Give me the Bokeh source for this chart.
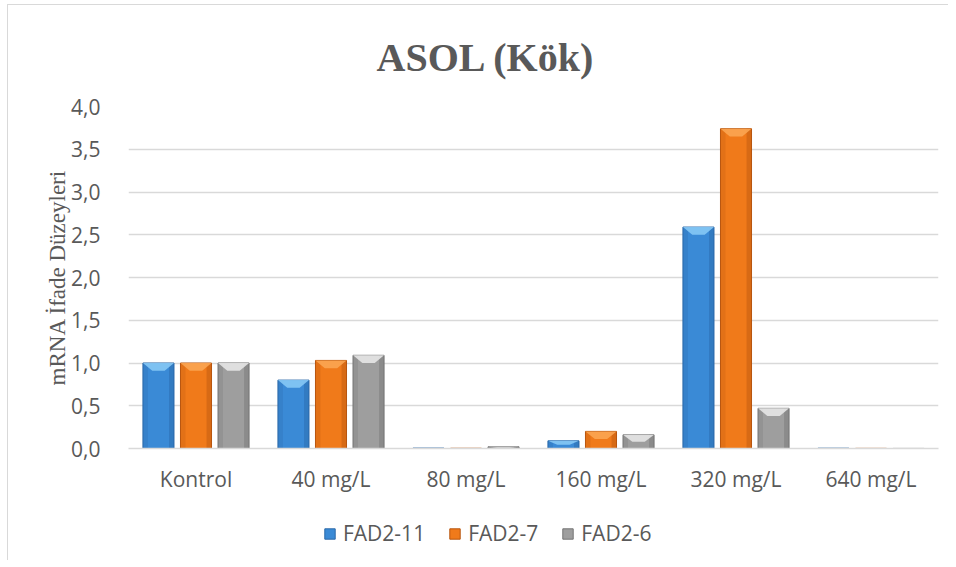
from bokeh.plotting import figure
from bokeh.layouts import column
from bokeh.models import (Range1d, FixedTicker, Legend, LegendItem,
                          ColumnDataSource)
from bokeh.embed import file_html
from bokeh.resources import INLINE

# ---- data -------------------------------------------------------------
categories = ["Kontrol", "40 mg/L", "80 mg/L", "160 mg/L", "320 mg/L", "640 mg/L"]
series_names = ["FAD2-11", "FAD2-7", "FAD2-6"]
fad2_11 = [1.00, 0.80, 0.005, 0.09, 2.59, 0.004]
fad2_7 = [1.00, 1.03, 0.003, 0.20, 3.74, 0.002]
fad2_6 = [1.00, 1.09, 0.02, 0.16, 0.47, 0.001]
y_ticks = [0.0, 0.5, 1.0, 1.5, 2.0, 2.5, 3.0, 3.5, 4.0]
y_tick_labels = ["0,0", "0,5", "1,0", "1,5", "2,0", "2,5", "3,0", "3,5", "4,0"]
title_text = "ASOL (Kök)"
y_title = "mRNA İfade Düzeyleri"

# ---- styles -----------------------------------------------------------
main_colors = ["#3A8AD6", "#F07A1A", "#9E9E9E"]
edge_colors = ["#2A68A8", "#B8560F", "#747474"]
bevel_colors = ["#86C8F5", "#FBA552", "#E6E6E6"]
offsets = [-0.278, 0.0, 0.278]
bar_w = 0.23
text_col = "#595959"
grid_col = "#D9D9D9"

p = figure(width=940, height=500, output_backend="svg", toolbar_location=None,
           x_range=Range1d(0, len(categories)), y_range=Range1d(0, 4.0),
           min_border_left=120, min_border_right=10, min_border_top=101,
           min_border_bottom=57)
p.outline_line_color = None
p.background_fill_color = "white"
p.border_fill_color = "white"

# title
p.title.text = title_text
p.title.align = "left"
p.title.offset = 248
p.title.standoff = 54
p.title.text_font = "Liberation Serif"
p.title.text_font_style = "bold"
p.title.text_font_size = "40px"
p.title.text_color = text_col

# axes
p.xaxis.ticker = FixedTicker(ticks=[i + 0.5 for i in range(len(categories))])
p.xaxis.major_label_overrides = {i + 0.5: c for i, c in enumerate(categories)}
p.yaxis.ticker = FixedTicker(ticks=y_ticks)
p.yaxis.major_label_overrides = {t: l for t, l in zip(y_ticks, y_tick_labels)}
for ax in (p.xaxis, p.yaxis):
    ax.major_tick_line_color = None
    ax.minor_tick_line_color = None
    ax.major_label_text_font = "Open Sans"
    ax.major_label_text_font_size = "21px"
    ax.major_label_text_color = text_col
p.xaxis.axis_line_color = grid_col
p.xaxis.axis_line_width = 1.5
p.yaxis.axis_line_color = None
p.xaxis.major_label_standoff = 10
p.yaxis.major_label_standoff = 22
p.yaxis.axis_label = y_title
p.yaxis.axis_label_text_font = "Liberation Serif"
p.yaxis.axis_label_text_font_style = "normal"
p.yaxis.axis_label_text_font_size = "23px"
p.yaxis.axis_label_text_color = text_col
p.yaxis.axis_label_standoff = -2
p.xgrid.grid_line_color = None
p.ygrid.grid_line_color = grid_col
p.ygrid.grid_line_width = 1.5

# legend figure (below the chart)
leg_fig = figure(width=940, height=55, output_backend="svg", toolbar_location=None,
                 x_range=Range1d(0, 1), y_range=Range1d(0, 1),
                 x_axis_location=None, y_axis_location=None, min_border=0)
leg_fig.outline_line_color = None
leg_fig.xgrid.grid_line_color = None
leg_fig.ygrid.grid_line_color = None
leg_fig.border_fill_color = "white"

# bars
series = [fad2_11, fad2_7, fad2_6]
items = []
for k, vals in enumerate(series):
    xs = [i + 0.5 + offsets[k] for i in range(len(categories))]
    src = ColumnDataSource(dict(x=xs, top=vals))
    p.vbar(x="x", top="top", width=bar_w, source=src,
           fill_color=main_colors[k], line_color=edge_colors[k], line_width=1)
    # side shading strips
    p.vbar(x=[x + bar_w * 0.42 for x in xs], top=vals, width=bar_w * 0.16,
           fill_color=edge_colors[k], fill_alpha=0.45, line_color=None)
    p.vbar(x=[x - bar_w * 0.42 for x in xs], top=vals, width=bar_w * 0.16,
           fill_color=edge_colors[k], fill_alpha=0.25, line_color=None)
    # top bevel
    pxs, pys = [], []
    for x, v in zip(xs, vals):
        d = min(0.09, v * 0.5)
        x0, x1 = x - bar_w / 2, x + bar_w / 2
        b = bar_w * 0.3
        pxs.append([x0, x1, x1 - b, x0 + b])
        pys.append([v, v, v - d, v - d])
    p.patches(pxs, pys, fill_color=bevel_colors[k], fill_alpha=0.9, line_color=None)
    # legend swatch renderer: a zero-size bar that only styles the legend swatch
    lr = leg_fig.vbar(x=[0.0], top=[0.0], bottom=[0.0], width=0.0,
                      fill_color=main_colors[k], line_color=edge_colors[k],
                      line_width=1)
    items.append(LegendItem(label=series_names[k], renderers=[lr]))

legend = Legend(items=items, orientation="horizontal", location=(195, 13),
                label_text_font="Open Sans", label_text_font_size="21px",
                label_text_color=text_col, glyph_width=13, glyph_height=13,
                spacing=23, label_standoff=7, border_line_color=None,
                background_fill_alpha=0, margin=0, padding=0)
leg_fig.add_layout(legend)

layout = column(p, leg_fig, spacing=0,
                styles={"border-left": "1px solid #D9D9D9",
                        "border-top": "1px solid #D9D9D9",
                        "margin-left": "7px", "margin-top": "4px"})

open("out.html", "w").write(file_html(layout, INLINE))
